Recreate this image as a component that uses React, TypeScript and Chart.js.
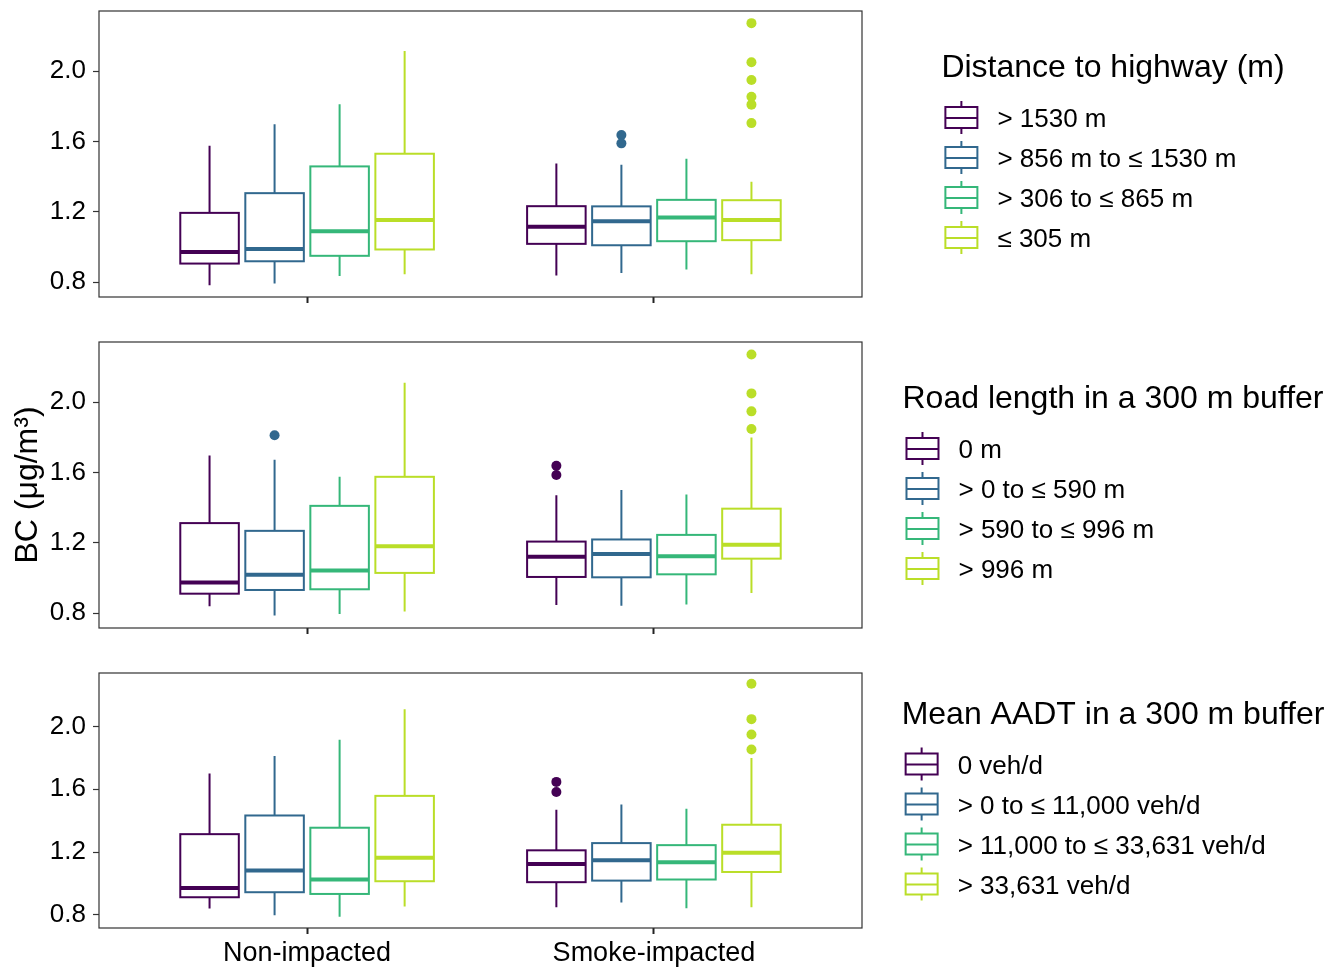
import React, { useEffect, useRef } from 'react';
import { Chart, registerables } from 'chart.js';

Chart.register(...registerables);

const FONT = '"Liberation Sans", Arial, Helvetica, sans-serif';

const CATEGORIES = ['Non-impacted', 'Smoke-impacted'];
const COLORS = ['#440154', '#31688E', '#35B779', '#BADE28'];
const Y_TICKS = [0.8, 1.2, 1.6, 2.0];
const Y_TITLE = 'BC (μg/m³)';

// box stats per group: [lower whisker, Q1, median, Q3, upper whisker]
const DIST_TITLE = 'Distance to highway (m)';
const DIST_LABELS = ['> 1530 m', '> 856 m to ≤ 1530 m', '> 306 to ≤ 865 m', '≤ 305 m'];
const DIST_NON = [
  [0.783, 0.906, 0.972, 1.194, 1.575],
  [0.793, 0.919, 0.989, 1.306, 1.697],
  [0.836, 0.95, 1.09, 1.458, 1.811],
  [0.845, 0.986, 1.153, 1.53, 2.114],
];
const DIST_SMOKE = [
  [0.838, 1.018, 1.115, 1.232, 1.475],
  [0.853, 1.01, 1.147, 1.231, 1.467],
  [0.872, 1.033, 1.168, 1.268, 1.501],
  [0.845, 1.039, 1.153, 1.266, 1.371],
];
const DIST_OUT_NON = [[], [], [], []];
const DIST_OUT_SMOKE = [[], [1.636, 1.589], [], [2.272, 2.05, 1.949, 1.854, 1.809, 1.704]];

const ROAD_TITLE = 'Road length in a 300 m buffer';
const ROAD_LABELS = ['0 m', '> 0 to ≤ 590 m', '> 590 to ≤ 996 m', '> 996 m'];
const ROAD_NON = [
  [0.84, 0.911, 0.974, 1.312, 1.696],
  [0.787, 0.932, 1.019, 1.268, 1.672],
  [0.796, 0.936, 1.042, 1.41, 1.575],
  [0.81, 1.029, 1.181, 1.575, 2.11],
];
const ROAD_SMOKE = [
  [0.847, 1.006, 1.121, 1.207, 1.47],
  [0.842, 1.004, 1.136, 1.219, 1.5],
  [0.849, 1.021, 1.123, 1.245, 1.474],
  [0.915, 1.11, 1.189, 1.394, 1.798],
];
const ROAD_OUT_NON = [[], [1.811], [], []];
const ROAD_OUT_SMOKE = [[1.638, 1.585], [], [], [2.27, 2.049, 1.947, 1.847]];

const AADT_TITLE = 'Mean AADT in a 300 m buffer';
const AADT_LABELS = ['0 veh/d', '> 0 to ≤ 11,000 veh/d', '> 11,000 to ≤ 33,631 veh/d', '> 33,631 veh/d'];
const AADT_NON = [
  [0.841, 0.912, 0.971, 1.314, 1.7],
  [0.798, 0.944, 1.082, 1.433, 1.812],
  [0.787, 0.933, 1.025, 1.355, 1.916],
  [0.853, 1.014, 1.164, 1.558, 2.11],
];
const AADT_SMOKE = [
  [0.849, 1.008, 1.124, 1.211, 1.469],
  [0.879, 1.018, 1.147, 1.257, 1.503],
  [0.842, 1.025, 1.135, 1.244, 1.476],
  [0.849, 1.073, 1.196, 1.374, 1.799],
];
const AADT_OUT_NON = [[], [], [], []];
const AADT_OUT_SMOKE = [[1.647, 1.583], [], [], [2.273, 2.047, 1.949, 1.854]];

const W = 1341;
const PANEL_LEFT = 99;
const PANEL_RIGHT = 862;
const LEGEND_CX = 1113;
const SLOT = 0.1875;
const BOX_W = SLOT * 0.9;

const xPos = (ci: number, g: number) => ci + 1 + (g - 1.5) * SLOT;

type PanelCfg = {
  top: number;
  height: number;
  axisH: number;
  showX: boolean;
  showYTitle: boolean;
  title: string;
  labels: string[];
  non: number[][];
  smoke: number[][];
  outNon: number[][];
  outSmoke: number[][];
};

const PANELS: PanelCfg[] = [
  { top: 0, height: 320, axisH: 23, showX: false, showYTitle: false, title: DIST_TITLE, labels: DIST_LABELS, non: DIST_NON, smoke: DIST_SMOKE, outNon: DIST_OUT_NON, outSmoke: DIST_OUT_SMOKE },
  { top: 331, height: 320, axisH: 23, showX: false, showYTitle: true, title: ROAD_TITLE, labels: ROAD_LABELS, non: ROAD_NON, smoke: ROAD_SMOKE, outNon: ROAD_OUT_NON, outSmoke: ROAD_OUT_SMOKE },
  { top: 662, height: 305, axisH: 39, showX: true, showYTitle: false, title: AADT_TITLE, labels: AADT_LABELS, non: AADT_NON, smoke: AADT_SMOKE, outNon: AADT_OUT_NON, outSmoke: AADT_OUT_SMOKE },
];

function boxPlugin(cfg: PanelCfg) {
  return {
    id: 'boxplotDraw',
    beforeDatasetsDraw(chart: any) {
      const { ctx } = chart;
      const x = chart.scales.x;
      const y = chart.scales.y;
      ctx.save();
      [cfg.non, cfg.smoke].forEach((stats, ci) => {
        stats.forEach((s, g) => {
          const [lo, q1, med, q3, hi] = s;
          const c = xPos(ci, g);
          const cx = x.getPixelForValue(c);
          const l = x.getPixelForValue(c - BOX_W / 2);
          const r = x.getPixelForValue(c + BOX_W / 2);
          const pLo = y.getPixelForValue(lo);
          const pQ1 = y.getPixelForValue(q1);
          const pMed = y.getPixelForValue(med);
          const pQ3 = y.getPixelForValue(q3);
          const pHi = y.getPixelForValue(hi);
          ctx.strokeStyle = COLORS[g];
          ctx.lineWidth = 2;
          ctx.lineCap = 'butt';
          ctx.beginPath();
          ctx.moveTo(cx, pHi);
          ctx.lineTo(cx, pQ3);
          ctx.moveTo(cx, pQ1);
          ctx.lineTo(cx, pLo);
          ctx.stroke();
          ctx.strokeRect(l, pQ3, r - l, pQ1 - pQ3);
          ctx.lineWidth = 4;
          ctx.beginPath();
          ctx.moveTo(l, pMed);
          ctx.lineTo(r, pMed);
          ctx.stroke();
        });
      });
      ctx.restore();
    },
    afterDraw(chart: any) {
      const { ctx, chartArea: a } = chart;
      ctx.save();
      ctx.strokeStyle = '#333333';
      ctx.lineWidth = 1.2;
      ctx.strokeRect(a.left, a.top, a.right - a.left, a.bottom - a.top);

      const pc = (a.top + a.bottom) / 2;
      ctx.font = `32px ${FONT}`;
      const tw = ctx.measureText(cfg.title).width;
      ctx.font = `26px ${FONT}`;
      const lw = Math.max(...cfg.labels.map((l) => ctx.measureText(l).width));
      const bw = Math.max(tw, 56 + lw);
      const left = LEGEND_CX - bw / 2;
      ctx.fillStyle = '#000';
      ctx.textAlign = 'left';
      ctx.textBaseline = 'alphabetic';
      ctx.font = `32px ${FONT}`;
      ctx.fillText(cfg.title, left, pc - 77);
      cfg.labels.forEach((lab, i) => {
        const yc = pc - 36 + i * 40;
        const gx = left + 4;
        ctx.strokeStyle = COLORS[i];
        ctx.lineWidth = 2;
        ctx.strokeRect(gx, yc - 11, 32, 21);
        ctx.beginPath();
        ctx.moveTo(gx, yc);
        ctx.lineTo(gx + 32, yc);
        ctx.moveTo(gx + 16, yc - 17);
        ctx.lineTo(gx + 16, yc - 11);
        ctx.moveTo(gx + 16, yc + 10);
        ctx.lineTo(gx + 16, yc + 16);
        ctx.stroke();
        ctx.font = `26px ${FONT}`;
        ctx.fillStyle = '#000';
        ctx.fillText(lab, gx + 52, yc + 9);
      });
      ctx.restore();
    },
  };
}

const zeroPad = (s: any) => {
  s.paddingTop = 0;
  s.paddingBottom = 0;
  s.paddingLeft = 0;
  s.paddingRight = 0;
};

function buildConfig(cfg: PanelCfg): any {
  const datasets = COLORS.map((c, g) => ({
    label: cfg.labels[g],
    data: [
      ...cfg.outNon[g].map((v) => ({ x: xPos(0, g), y: v })),
      ...cfg.outSmoke[g].map((v) => ({ x: xPos(1, g), y: v })),
    ],
    backgroundColor: c,
    borderColor: c,
    pointRadius: 5,
    pointHoverRadius: 5,
    pointBorderWidth: 0,
  }));
  return {
    type: 'scatter',
    data: { datasets },
    plugins: [boxPlugin(cfg)],
    options: {
      animation: false,
      responsive: false,
      maintainAspectRatio: false,
      events: [],
      layout: { padding: { top: 11, right: W - PANEL_RIGHT, left: 0, bottom: 0 } },
      plugins: { legend: { display: false }, tooltip: { enabled: false } },
      scales: {
        x: {
          type: 'linear',
          min: 0.4,
          max: 2.6,
          afterBuildTicks: (s: any) => {
            s.ticks = [{ value: 1 }, { value: 2 }];
          },
          afterFit: (s: any) => {
            s.height = cfg.axisH;
            zeroPad(s);
          },
          grid: { display: true, drawOnChartArea: false, drawTicks: true, tickLength: 6, tickColor: '#222', tickWidth: 2 },
          border: { display: false },
          ticks: {
            display: cfg.showX,
            autoSkip: false,
            maxRotation: 0,
            padding: 3,
            color: '#000',
            font: { family: FONT, size: 27 },
            callback: (v: any) => CATEGORIES[Math.round(v) - 1],
          },
        },
        y: {
          type: 'linear',
          min: 0.716,
          max: 2.341,
          afterBuildTicks: (s: any) => {
            s.ticks = Y_TICKS.map((v) => ({ value: v }));
          },
          afterFit: (s: any) => {
            s.width = PANEL_LEFT;
            zeroPad(s);
          },
          grid: { display: true, drawOnChartArea: false, drawTicks: true, tickLength: 6, tickColor: '#333', tickWidth: 1.2 },
          border: { display: false },
          ticks: {
            padding: 7,
            color: '#000',
            font: { family: FONT, size: 26 },
            callback: (v: any) => Number(v).toFixed(1),
          },
          title: {
            display: cfg.showYTitle,
            text: Y_TITLE,
            color: '#000',
            font: { family: FONT, size: 32 },
            padding: { top: 9, bottom: 0 },
          },
        },
      },
    },
  };
}

function Panel({ cfg }: { cfg: PanelCfg }) {
  const ref = useRef<HTMLCanvasElement>(null);
  useEffect(() => {
    const chart = new Chart(ref.current as HTMLCanvasElement, buildConfig(cfg));
    return () => chart.destroy();
  }, [cfg]);
  return (
    <canvas
      ref={ref}
      width={W}
      height={cfg.height}
      style={{ position: 'absolute', left: 0, top: cfg.top, width: W, height: cfg.height }}
    />
  );
}

export default function App() {
  return (
    <div style={{ position: 'absolute', left: 0, top: 0, width: W, height: 967, background: '#fff' }}>
      {PANELS.map((p, i) => (
        <Panel key={i} cfg={p} />
      ))}
    </div>
  );
}
